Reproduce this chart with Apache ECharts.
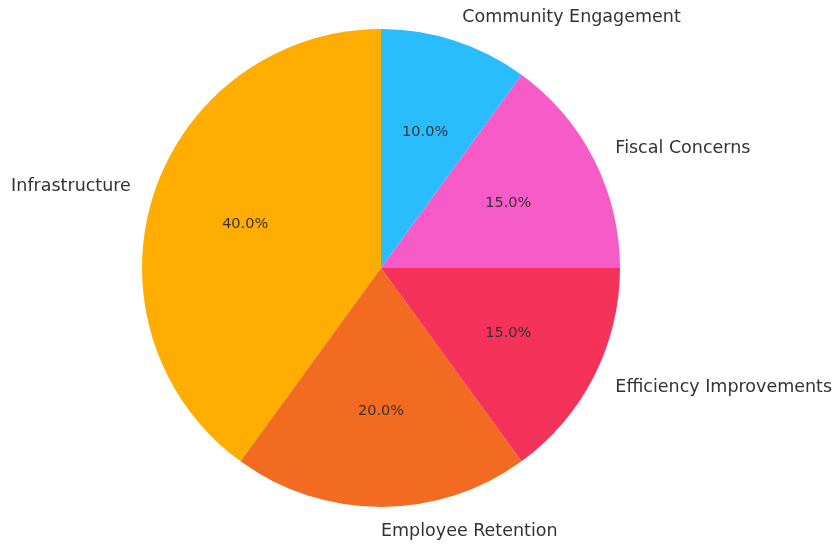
<!DOCTYPE html>
<html>
<head>
<meta charset="utf-8">
<script src="https://cdn.jsdelivr.net/npm/echarts@6/dist/echarts.min.js"></script>
<style>
  html, body { margin: 0; padding: 0; background: #fff; }
  #chart { width: 839px; height: 548px; }
</style>
</head>
<body>
<div id="chart"></div>
<script>
// slices in matplotlib order (counterclockwise from 12 o'clock)
const categories = ["Infrastructure", "Employee Retention", "Efficiency Improvements", "Fiscal Concerns", "Community Engagement"];
const shares = [40, 20, 15, 15, 10];
const colors = ["#FFAD00", "#F26B21", "#F5325A", "#F75BC8", "#29BDFD"];

const chart = echarts.init(document.getElementById("chart"), null, { renderer: "canvas" });

const R = 239;
const center = [381, 268];
const font = "DejaVu Sans";

const total = shares.reduce((s, v) => s + v, 0);

chart.setOption({
  animation: false,
  backgroundColor: "#fff",
  series: [
    {
      type: "pie",
      center,
      radius: [0, R],
      startAngle: 90,
      clockwise: false,
      avoidLabelOverlap: false,
      silent: true,
      label: {
        show: true,
        position: "outside",
        fontFamily: font,
        fontSize: 17.5,
        color: "#333",
        distanceToLabelLine: 0
      },
      labelLine: { show: false, length: 24, length2: 0 },
      data: categories.map((name, i) => ({
        name,
        value: shares[i],
        itemStyle: { color: colors[i] }
      }))
    },
    {
      // transparent copy to place percentage text near 0.6 * R
      type: "pie",
      center,
      radius: [0, R * 1.17],
      startAngle: 90,
      clockwise: false,
      avoidLabelOverlap: false,
      silent: true,
      itemStyle: { color: "rgba(0,0,0,0)" },
      label: {
        show: true,
        position: "inside",
        fontFamily: font,
        fontSize: 14.5,
        color: "#333",
        formatter: (p) => (p.value / total * 100).toFixed(1) + "%"
      },
      labelLine: { show: false },
      data: categories.map((name, i) => ({ name, value: shares[i] }))
    }
  ]
});
</script>
</body>
</html>
